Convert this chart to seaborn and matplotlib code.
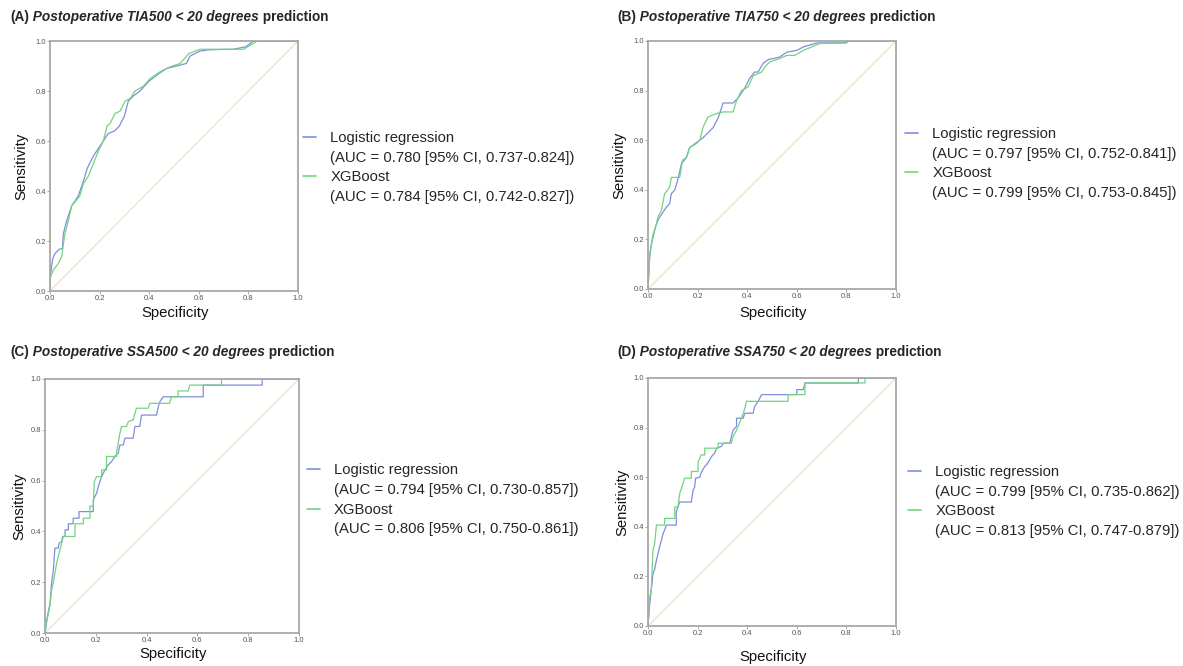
import numpy as np
import pandas as pd
import matplotlib
matplotlib.use('Agg')
from matplotlib import pyplot as plt
from matplotlib.lines import Line2D
import seaborn as sns

# ROC points (x = 1 - specificity, y = sensitivity)
a_lr_x = [0, 0, 0.011, 0.02, 0.038, 0.05, 0.054, 0.067, 0.087, 0.114, 0.135, 0.15, 0.175, 0.195, 0.215, 0.235, 0.26,
          0.28, 0.30, 0.316, 0.336, 0.363, 0.40, 0.44, 0.47, 0.51, 0.55, 0.565, 0.605, 0.646, 0.74, 0.79, 0.82, 1.0]
a_lr_y = [0, 0.05, 0.13, 0.15, 0.167, 0.17, 0.23, 0.28, 0.34, 0.38, 0.44, 0.49, 0.54, 0.57, 0.60, 0.63, 0.64,
          0.66, 0.70, 0.76, 0.78, 0.80, 0.84, 0.87, 0.89, 0.90, 0.91, 0.94, 0.96, 0.965, 0.967, 0.977, 1.0, 1.0]
a_xgb_x = [0, 0, 0.013, 0.034, 0.047, 0.06, 0.074, 0.087, 0.12, 0.135, 0.155, 0.175, 0.195, 0.215, 0.23, 0.242,
           0.262, 0.283, 0.303, 0.323, 0.343, 0.377, 0.404, 0.444, 0.485, 0.525, 0.56, 0.605, 0.78, 0.82, 0.835, 1.0]
a_xgb_y = [0, 0.05, 0.084, 0.11, 0.137, 0.23, 0.28, 0.34, 0.38, 0.43, 0.46, 0.51, 0.56, 0.60, 0.66, 0.67,
           0.71, 0.72, 0.76, 0.77, 0.80, 0.82, 0.85, 0.877, 0.897, 0.91, 0.95, 0.967, 0.967, 0.99, 1.0, 1.0]

b_lr_x = [0, 0.007, 0.013, 0.023, 0.03, 0.04, 0.054, 0.074, 0.087, 0.094, 0.108, 0.12, 0.135, 0.155, 0.168, 0.195,
          0.222, 0.242, 0.262, 0.283, 0.303, 0.343, 0.363, 0.39, 0.41, 0.43, 0.444, 0.464, 0.485, 0.53, 0.56, 0.60,
          0.626, 0.68, 0.80, 0.807, 1.0]
b_lr_y = [0, 0.13, 0.176, 0.22, 0.25, 0.277, 0.30, 0.33, 0.344, 0.384, 0.40, 0.44, 0.505, 0.53, 0.57, 0.59,
          0.61, 0.63, 0.65, 0.69, 0.75, 0.75, 0.77, 0.81, 0.85, 0.875, 0.875, 0.91, 0.925, 0.935, 0.955, 0.962,
          0.976, 0.992, 0.993, 1.0, 1.0]
b_xgb_x = [0, 0.007, 0.02, 0.031, 0.04, 0.054, 0.067, 0.087, 0.094, 0.128, 0.139, 0.155, 0.168, 0.195, 0.209,
           0.222, 0.242, 0.276, 0.303, 0.343, 0.357, 0.377, 0.404, 0.424, 0.458, 0.471, 0.49, 0.53, 0.56, 0.592,
           0.626, 0.66, 0.693, 0.80, 0.807, 1.0]
b_xgb_y = [0, 0.14, 0.22, 0.25, 0.29, 0.317, 0.384, 0.41, 0.45, 0.45, 0.52, 0.53, 0.57, 0.586, 0.60,
           0.653, 0.694, 0.707, 0.714, 0.714, 0.76, 0.80, 0.815, 0.86, 0.875, 0.895, 0.915, 0.929, 0.942, 0.942,
           0.962, 0.976, 0.99, 0.992, 1.0, 1.0]

c_lr_x = [0, 0.007, 0.02, 0.026, 0.033, 0.039, 0.052, 0.056, 0.066, 0.069, 0.079, 0.079, 0.092, 0.092, 0.111,
          0.111, 0.134, 0.134, 0.19, 0.19, 0.203, 0.21, 0.216, 0.223, 0.236, 0.249, 0.262, 0.275, 0.288, 0.295,
          0.308, 0.315, 0.347, 0.354, 0.373, 0.38, 0.439, 0.446, 0.452, 0.465, 0.623, 0.623, 0.855, 0.855, 1.0]
c_lr_y = [0, 0.052, 0.118, 0.197, 0.25, 0.334, 0.334, 0.354, 0.36, 0.38, 0.38, 0.406, 0.406, 0.43, 0.43,
          0.452, 0.452, 0.478, 0.478, 0.524, 0.55, 0.577, 0.596, 0.616, 0.642, 0.662, 0.675, 0.695, 0.708, 0.74,
          0.74, 0.767, 0.767, 0.813, 0.813, 0.858, 0.858, 0.891, 0.91, 0.93, 0.93, 0.976, 0.976, 1.0, 1.0]
c_xgb_x = [0, 0.007, 0.02, 0.026, 0.033, 0.039, 0.046, 0.052, 0.059, 0.066, 0.072, 0.118, 0.118, 0.151, 0.151,
           0.177, 0.177, 0.19, 0.194, 0.203, 0.223, 0.223, 0.242, 0.242, 0.282, 0.282, 0.295, 0.301, 0.321, 0.328,
           0.347, 0.36, 0.406, 0.413, 0.49, 0.498, 0.524, 0.524, 0.564, 0.57, 0.695, 0.695, 1.0]
c_xgb_y = [0, 0.046, 0.11, 0.17, 0.197, 0.236, 0.275, 0.30, 0.328, 0.354, 0.38, 0.38, 0.43, 0.43, 0.452,
           0.452, 0.50, 0.50, 0.596, 0.616, 0.616, 0.642, 0.642, 0.695, 0.695, 0.714, 0.786, 0.813, 0.813, 0.832,
           0.839, 0.885, 0.885, 0.904, 0.904, 0.93, 0.93, 0.953, 0.953, 0.976, 0.976, 1.0, 1.0]

d_lr_x = [0, 0.007, 0.013, 0.02, 0.027, 0.034, 0.04, 0.047, 0.054, 0.061, 0.067, 0.074, 0.114, 0.114, 0.128,
          0.175, 0.182, 0.188, 0.192, 0.209, 0.215, 0.229, 0.236, 0.249, 0.256, 0.269, 0.276, 0.296, 0.303, 0.33,
          0.336, 0.343, 0.357, 0.357, 0.384, 0.39, 0.424, 0.43, 0.444, 0.458, 0.6, 0.6, 0.626, 0.633, 0.848,
          0.848, 1.0]
d_lr_y = [0, 0.09, 0.144, 0.21, 0.23, 0.265, 0.29, 0.32, 0.346, 0.373, 0.387, 0.407, 0.407, 0.46, 0.50,
          0.50, 0.55, 0.56, 0.596, 0.60, 0.62, 0.643, 0.65, 0.67, 0.683, 0.697, 0.717, 0.724, 0.737, 0.737,
          0.764, 0.79, 0.805, 0.838, 0.838, 0.858, 0.858, 0.885, 0.906, 0.933, 0.933, 0.953, 0.953, 0.98, 0.98,
          1.0, 1.0]
d_xgb_x = [0, 0.007, 0.013, 0.02, 0.027, 0.034, 0.067, 0.067, 0.108, 0.108, 0.121, 0.128, 0.135, 0.141, 0.148,
           0.175, 0.175, 0.202, 0.202, 0.215, 0.229, 0.229, 0.283, 0.283, 0.336, 0.343, 0.357, 0.377, 0.39, 0.397,
           0.565, 0.565, 0.633, 0.633, 0.875, 0.875, 1.0]
d_xgb_y = [0, 0.117, 0.144, 0.306, 0.333, 0.407, 0.407, 0.434, 0.434, 0.48, 0.48, 0.535, 0.555, 0.575, 0.596,
           0.596, 0.623, 0.623, 0.663, 0.69, 0.69, 0.717, 0.717, 0.737, 0.737, 0.764, 0.79, 0.838, 0.876, 0.906,
           0.906, 0.933, 0.933, 0.98, 0.98, 1.0, 1.0]

diag = [0, 1]
ticks = [0.0, 0.2, 0.4, 0.6, 0.8, 1.0]
tick_labels = ['0.0', '0.2', '0.4', '0.6', '0.8', '1.0']

panel_tags = ['(A)', '(B)', '(C)', '(D)']
panel_measures = ['Postoperative TIA500 < 20 degrees', 'Postoperative TIA750 < 20 degrees',
                  'Postoperative SSA500 < 20 degrees', 'Postoperative SSA750 < 20 degrees']
model_names = ['Logistic regression', 'XGBoost']
lr_auc = ['(AUC = 0.780 [95% CI, 0.737-0.824])', '(AUC = 0.797 [95% CI, 0.752-0.841])',
          '(AUC = 0.794 [95% CI, 0.730-0.857])', '(AUC = 0.799 [95% CI, 0.735-0.862])']
xgb_auc = ['(AUC = 0.784 [95% CI, 0.742-0.827])', '(AUC = 0.799 [95% CI, 0.753-0.845])',
           '(AUC = 0.806 [95% CI, 0.750-0.861])', '(AUC = 0.813 [95% CI, 0.747-0.879])']

lr_x = [a_lr_x, b_lr_x, c_lr_x, d_lr_x]
lr_y = [a_lr_y, b_lr_y, c_lr_y, d_lr_y]
xgb_x = [a_xgb_x, b_xgb_x, c_xgb_x, d_xgb_x]
xgb_y = [a_xgb_y, b_xgb_y, c_xgb_y, d_xgb_y]

sns.set_theme(style='white')
plt.rcParams['font.family'] = ['Liberation Sans', 'DejaVu Sans']

blue = '#7d8fd9'
green = '#72d47e'
diag_color = '#ebe3c0'

W, H = 1183, 666
# axes boxes in pixels: left, top, right, bottom
boxes = [(50, 41, 298, 291), (648, 41, 896, 289), (45, 379, 299, 633), (648, 378, 896, 626)]
title_pos = [(10, 17), (617, 17), (10, 352), (617, 352)]
legend_anchor = [(1.02, 0.494), (1.036, 0.506), (1.03, 0.524), (1.048, 0.502)]
ylabel_x = [-0.117, -0.117, -0.102, -0.103]
xlabel_y = [-0.088, -0.097, -0.083, -0.125]

fig = plt.figure(figsize=(W / 100, H / 100), dpi=100)

for i in range(4):
    l, t, r, b = boxes[i]
    ax = fig.add_axes([l / W, 1 - b / H, (r - l) / W, (b - t) / H])
    sns.lineplot(x=diag, y=diag, ax=ax, color=diag_color, linewidth=0.9)
    sns.lineplot(x=lr_x[i], y=lr_y[i], ax=ax, sort=False, estimator=None, color=blue, linewidth=0.9)
    sns.lineplot(x=xgb_x[i], y=xgb_y[i], ax=ax, sort=False, estimator=None, color=green, linewidth=0.9)
    ax.set_xlim(0, 1)
    ax.set_ylim(0, 1)
    ax.set_xticks(ticks)
    ax.set_yticks(ticks)
    ax.set_xticklabels(tick_labels)
    ax.set_yticklabels(tick_labels)
    ax.tick_params(labelsize=5.5, labelcolor='#555555', color='#999999', length=2, width=0.6,
                   direction='out', pad=1, bottom=True, left=True)
    for s in ax.spines.values():
        s.set_color('#a8a8a8')
        s.set_linewidth(1.3)
    ax.set_xlabel('Specificity', fontsize=10.7, color='#111111')
    ax.set_ylabel('Sensitivity', fontsize=10.7, color='#111111')
    ax.xaxis.set_label_coords(0.504, xlabel_y[i])
    ax.xaxis.label.set_va('center')
    ax.yaxis.set_label_coords(ylabel_x[i], 0.5)
    ax.yaxis.label.set_va('center')

    handles = [Line2D([], [], color=blue, lw=1.2), Line2D([], [], color='none'),
               Line2D([], [], color=green, lw=1.2), Line2D([], [], color='none')]
    labels = [model_names[0], lr_auc[i], model_names[1], xgb_auc[i]]
    ax.legend(handles, labels, loc='center left', bbox_to_anchor=legend_anchor[i], frameon=False,
              fontsize=10.7, handlelength=0.9, handletextpad=0.95, labelspacing=0.38,
              borderpad=0, borderaxespad=0)

    tx, ty = title_pos[i]
    t1 = fig.text(tx / W, 1 - ty / H, panel_tags[i], fontsize=9.8, fontweight='bold', va='center', ha='left')
    t2 = ax.annotate(' ' + panel_measures[i], xy=(1, 0), xycoords=t1, va='bottom', ha='left',
                     fontsize=9.8, fontweight='bold', fontstyle='italic')
    ax.annotate(' prediction', xy=(1, 0), xycoords=t2, va='bottom', ha='left',
                fontsize=9.8, fontweight='bold')

fig.savefig('out.png', dpi=100)
